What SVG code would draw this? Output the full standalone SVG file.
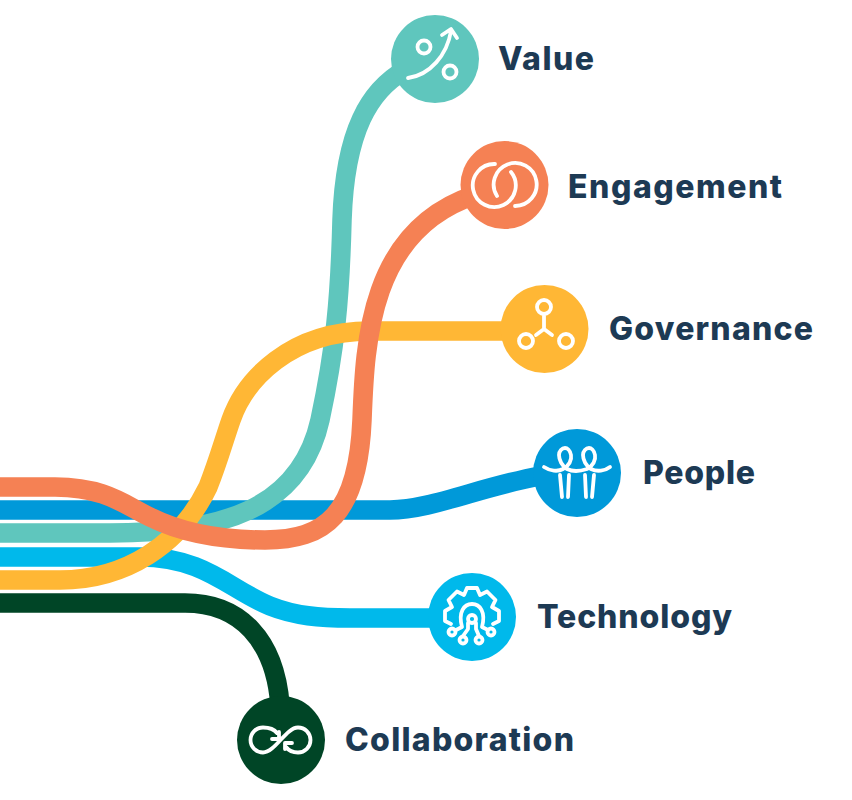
<svg xmlns="http://www.w3.org/2000/svg" width="852" height="800" viewBox="0 0 852 800">
<style>
.c{fill:none;stroke-width:19.5}
.i{fill:none;stroke:#fff;stroke-width:3.800;stroke-linecap:round;stroke-linejoin:round}
.t{font-family:"Inter","Liberation Sans",sans-serif;font-weight:800;font-size:32px;fill:#1d3a54}
</style>
<rect width="852" height="800" fill="#fff"/>
<g id="connectors">
<path class="c" stroke="#0099d9" d="M0 510H390C430 510 480 487 540 476"/>
<path class="c" stroke="#004526" d="M0 603H185C240 603 275 640 280 705"/>
<path class="c" stroke="#00b9eb" d="M0 557H140C205 557 230 590 270 606C295 616 320 618 350 618H440"/>
<path class="c" stroke="#5fc6bd" d="M0 533H110C220 533 300 510 320 420C335 350 340 300 342 220C345 130 370 90 405 70"/>
<path class="c" stroke="#ffb735" d="M0 580H60C125 580 180 545 208 487C218 462 224 440 231 420C245 380 290 331 370 331H510"/>
<path class="c" stroke="#f58154" d="M0 487H55C105 487 125 505 150 517C180 532 220 540 265 540C325 540 358 515 362 420C365 340 370 230 475 195"/>
</g>
<g id="value">
<circle cx="435" cy="59" r="44" fill="#5fc6bd"/>
<circle class="i" cx="424" cy="47" r="6.500"/><circle class="i" cx="450" cy="72" r="6.500"/>
<path class="i" d="M408 78C430 75 447 55 451 31M442 35L451 29L457 38"/>
<text class="t" x="498" y="70" textLength="96">Value</text>
</g>
<g id="engagement">
<circle cx="504.500" cy="185" r="44" fill="#f58154"/>
<path class="i" d="M495 164A21.500 21.500 0 1 0 511 172M497 196A21.500 21.500 0 1 1 515 206"/>
<text class="t" x="568" y="198" textLength="214">Engagement</text>
</g>
<g id="governance">
<circle cx="544.500" cy="329" r="44" fill="#ffb735"/>
<circle class="i" cx="544" cy="307" r="7"/><circle class="i" cx="526" cy="341" r="7"/><circle class="i" cx="566" cy="341" r="7"/>
<path class="i" d="M544 316V329M536 335L544 329L552 335"/>
<text class="t" x="609" y="340" textLength="204">Governance</text>
</g>
<g id="people">
<circle cx="577" cy="473" r="44" fill="#0099d9"/>
<path class="i" d="M544 467C550 471 558 472 563 469C569 466 572 460 571 455C570 450 567 448 565 448C562 448 559 451 559 455C559 460 562 466 567 469C573 472 581 471 587 469C593 466 596 460 595 455C594 450 591 448 589 448C586 448 583 451 583 455C583 460 586 466 591 469C597 472 605 471 610 467M560 475L562 497M569 475L568 497M585 475L586 497M594 475L592 497"/>
<text class="t" x="643" y="484" textLength="112">People</text>
</g>
<g id="technology">
<circle cx="472" cy="617" r="44" fill="#00b9eb"/>
<path class="i" transform="translate(472 615)" d="M-21 9L-27 6V-4L-20 -8L-23.500 -15L-15 -23.500L-8 -20L-5 -27H5L8 -20L15 -23.500L23.500 -15L20 -8L27 -4V6L21 9"/>
<circle class="i" cx="472" cy="619" r="4"/>
<circle class="i" cx="452" cy="632" r="3.500"/><circle class="i" cx="463" cy="640" r="3.500"/><circle class="i" cx="479" cy="640" r="3.500"/><circle class="i" cx="491" cy="632" r="3.500"/>
<path class="i" d="M456 630L462 627C458 612 464 604 472 604C480 604 486 612 482 627L488 630M468 623V629L463 636M476 623V629L479 636"/>
<text class="t" x="537" y="628" textLength="195">Technology</text>
</g>
<g id="collaboration">
<circle cx="281" cy="740" r="44" fill="#004526"/>
<path class="i" d="M277 733C274 729 268 727.500 263 727.500A12.500 12.500 0 0 0 263 752.500C275 752.500 286 727.500 298 727.500A12.500 12.500 0 0 1 298 752.500C293 752.500 289 751 286 747M272 739H279V732M285 749V743H292"/>
<text class="t" x="345" y="751" textLength="229">Collaboration</text>
</g>
</svg>
